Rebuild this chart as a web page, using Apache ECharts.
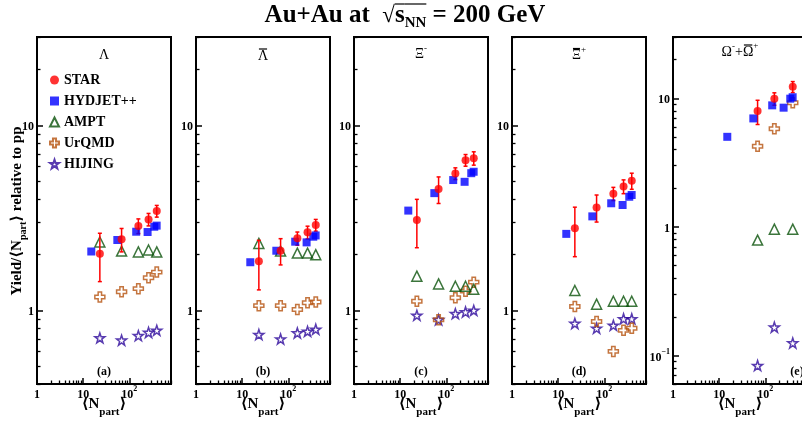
<!DOCTYPE html>
<html><head><meta charset="utf-8">
<script src="https://cdn.jsdelivr.net/npm/echarts@6/dist/echarts.min.js"></script>
<style>html,body{margin:0;padding:0;background:#fff}#c{width:802px;height:424px}</style>
</head><body><div id="c"></div>
<script>
// ---------------- data ----------------
const seriesNames = ['STAR', 'HYDJET++', 'AMPT', 'UrQMD', 'HIJING'];
const panelTags = ['(a)', '(b)', '(c)', '(d)', '(e)'];

const nPartModels = [23, 68, 157, 261, 393];        // STAR + AMPT/UrQMD/HIJING
const nPartHydjet = [15, 55, 141, 249, 347, 391];   // HYDJET++
const nPartOmega  = [68, 157, 393];                 // Omega: STAR + AMPT/UrQMD/HIJING

// (a) Lambda
const starLambda = [2.02, 2.42, 2.86, 3.10, 3.44];
const starLambdaErr = [0.59, 0.35, 0.26, 0.24, 0.25];
const hydLambda = [2.08, 2.40, 2.66, 2.65, 2.83, 2.87];
const amptLambda = [2.34, 2.09, 2.07, 2.12, 2.07];
const urqmdLambda = [1.18, 1.26, 1.31, 1.50, 1.61];
const hijingLambda = [0.71, 0.69, 0.73, 0.76, 0.78];
// (b) anti-Lambda
const starALambda = [1.84, 2.10, 2.45, 2.64, 2.89];
const starALambdaErr = [0.55, 0.34, 0.20, 0.21, 0.21];
const hydALambda = [1.82, 2.10, 2.35, 2.33, 2.50, 2.54];
const amptALambda = [2.30, 2.09, 2.04, 2.04, 2.00];
const urqmdALambda = [1.06, 1.06, 1.01, 1.10, 1.11];
const hijingALambda = [0.74, 0.70, 0.755, 0.77, 0.79];
// (c) Xi-
const starXi = [3.08, 4.52, 5.49, 6.48, 6.64];
const starXiErr = [0.90, 0.74, 0.40, 0.47, 0.55];
const hydXi = [3.46, 4.30, 5.06, 4.95, 5.51, 5.61];
const amptXi = [1.53, 1.39, 1.35, 1.35, 1.30];
const urqmdXi = [1.12, 0.89, 1.17, 1.27, 1.42];
const hijingXi = [0.94, 0.89, 0.96, 0.98, 1.00];
// (d) anti-Xi+
const starAXi = [2.78, 3.60, 4.27, 4.67, 5.01];
const starAXiErr = [0.83, 0.60, 0.35, 0.40, 0.50];
const hydAXi = [2.59, 3.22, 3.79, 3.71, 4.11, 4.20];
const amptAXi = [1.28, 1.08, 1.12, 1.12, 1.12];
const urqmdAXi = [1.05, 0.87, 0.60, 0.78, 0.80];
const hijingAXi = [0.85, 0.80, 0.83, 0.90, 0.90];
// (e) Omega- + anti-Omega+
const starOmega = [7.96, 9.94, 12.3];
const starOmegaErr = [1.7, 1.1, 1.2];
const hydOmega = [5.02, 6.98, 8.82, 8.46, 9.94, 10.2];
const amptOmega = [0.79, 0.96, 0.96];
const urqmdOmega = [4.24, 5.8, 9.25];
const hijingOmega = [0.0835, 0.166, 0.125];

// axes
const xRange = [1, 800];
const xMajorTicks = [1, 10, 100];
const xMinorTicks = [2,3,4,5,6,7,8,9,20,30,40,50,60,70,80,90,200,300,400,500,600,700,800];
const yRangeBaryon = [0.4, 30];
const yMajorBaryon = [1, 10];
const yMinorBaryon = [0.4,0.5,0.6,0.7,0.8,0.9,2,3,4,5,6,7,8,9,20,30];
const yRangeOmega = [0.06, 30];
const yMajorOmega = [0.1, 1, 10];
const yMinorOmega = [0.06,0.07,0.08,0.09,0.2,0.3,0.4,0.5,0.6,0.7,0.8,0.9,2,3,4,5,6,7,8,9,20,30];

// ---------------- styling / layout ----------------
const FONT = '"Liberation Serif","DejaVu Serif",serif';
const COLORS = {STAR:'#ff0000', 'HYDJET++':'#0000ff', AMPT:'#0a520a', UrQMD:'#b5520f', HIJING:'#2e0a9c'};
const SYMBOLS = {
  STAR: 'circle',
  'HYDJET++': 'rect',
  AMPT: 'triangle',
  UrQMD: 'path://M33,0H67V33H100V67H67V100H33V67H0V33H33Z',
  HIJING: 'path://M50,0L61.8,35.4L97.6,35.4L68.8,57.3L79.4,91.8L50,70.5L20.6,91.8L31.2,57.3L2.4,35.4L38.2,35.4Z'
};
const SIZES = {STAR:8, 'HYDJET++':8, AMPT:10, UrQMD:10, HIJING:10};
const gridLeft = [37, 196, 354, 512, 673];
const gridTop = 37, gridW = 134, gridH = 347;

const L = Math.log10;
const panels = [
  {star: starLambda, err: starLambdaErr, starX: nPartModels, hyd: hydLambda, ampt: amptLambda, urqmd: urqmdLambda, hijing: hijingLambda, modelX: nPartModels, yr: yRangeBaryon, ymaj: yMajorBaryon, ymin: yMinorBaryon},
  {star: starALambda, err: starALambdaErr, starX: nPartModels, hyd: hydALambda, ampt: amptALambda, urqmd: urqmdALambda, hijing: hijingALambda, modelX: nPartModels, yr: yRangeBaryon, ymaj: yMajorBaryon, ymin: yMinorBaryon},
  {star: starXi, err: starXiErr, starX: nPartModels, hyd: hydXi, ampt: amptXi, urqmd: urqmdXi, hijing: hijingXi, modelX: nPartModels, yr: yRangeBaryon, ymaj: yMajorBaryon, ymin: yMinorBaryon},
  {star: starAXi, err: starAXiErr, starX: nPartModels, hyd: hydAXi, ampt: amptAXi, urqmd: urqmdAXi, hijing: hijingAXi, modelX: nPartModels, yr: yRangeBaryon, ymaj: yMajorBaryon, ymin: yMinorBaryon},
  {star: starOmega, err: starOmegaErr, starX: nPartOmega, hyd: hydOmega, ampt: amptOmega, urqmd: urqmdOmega, hijing: hijingOmega, modelX: nPartOmega, yr: yRangeOmega, ymaj: yMajorOmega, ymin: yMinorOmega}
];

function logLabel(v) {
  const p = Math.round(v);
  if (p === 0) return '{b|1}';
  if (p === 1) return '{b|10}';
  return '{b|10}{sup|' + (p < 0 ? '\u2212' : '') + Math.abs(p) + '}';
}
const labelRich = {
  b: {fontFamily: FONT, fontWeight: 'bold', fontSize: 12, lineHeight: 16, verticalAlign: 'bottom', color: '#000'},
  sup: {fontFamily: FONT, fontWeight: 'bold', fontSize: 8, lineHeight: 8, verticalAlign: 'top', color: '#000'}
};

function renderErr(params, api) {
  const x = api.value(0), lo = api.value(2), hi = api.value(3);
  const p1 = api.coord([x, lo]), p2 = api.coord([x, hi]);
  const c = 2;
  const st = {stroke: '#ff0000', lineWidth: 1.5};
  return {type: 'group', children: [
    {type: 'line', shape: {x1: p1[0], y1: p1[1], x2: p2[0], y2: p2[1]}, style: st},
    {type: 'line', shape: {x1: p1[0]-c, y1: p1[1], x2: p1[0]+c, y2: p1[1]}, style: st},
    {type: 'line', shape: {x1: p2[0]-c, y1: p2[1], x2: p2[0]+c, y2: p2[1]}, style: st}
  ]};
}

const grid = [], xAxis = [], yAxis = [], series = [];
panels.forEach((pn, i) => {
  grid.push({left: gridLeft[i], top: gridTop, width: gridW, height: gridH, show: true,
    borderColor: '#000', borderWidth: 2, backgroundColor: 'transparent', outerBoundsMode: 'none', containLabel: false});
  const xr = [L(xRange[0]), L(xRange[1])];
  const yr = [L(pn.yr[0]), L(pn.yr[1])];
  xAxis.push({type: 'value', gridIndex: i, min: xr[0], max: xr[1], position: 'bottom',
    axisLine: {show: false, onZero: false}, splitLine: {show: false},
    axisTick: {show: true, inside: true, length: 6, customValues: xMajorTicks.map(L), lineStyle: {color: '#000', width: 1.5}},
    axisLabel: {show: true, customValues: xMajorTicks.map(L), formatter: logLabel, rich: labelRich, margin: 1, alignMinLabel: 'center', alignMaxLabel: 'center'}});
  xAxis.push({type: 'value', gridIndex: i, min: xr[0], max: xr[1], position: 'bottom',
    axisLine: {show: false, onZero: false}, splitLine: {show: false}, axisLabel: {show: false},
    axisTick: {show: true, inside: true, length: 3.5, customValues: xMinorTicks.map(L), lineStyle: {color: '#000', width: 1.3}}});
  yAxis.push({type: 'value', gridIndex: i, min: yr[0], max: yr[1], position: 'left',
    axisLine: {show: false, onZero: false}, splitLine: {show: false},
    axisTick: {show: true, inside: true, length: 6, customValues: pn.ymaj.map(L), lineStyle: {color: '#000', width: 1.5}},
    axisLabel: {show: true, customValues: pn.ymaj.map(L), formatter: logLabel, rich: labelRich, margin: 3}});
  yAxis.push({type: 'value', gridIndex: i, min: yr[0], max: yr[1], position: 'left',
    axisLine: {show: false, onZero: false}, splitLine: {show: false}, axisLabel: {show: false},
    axisTick: {show: true, inside: true, length: 3.5, customValues: pn.ymin.map(L), lineStyle: {color: '#000', width: 1.3}}});
  const xi = 2*i, yi = 2*i;
  // error bars
  series.push({type: 'custom', name: 'STAR error', xAxisIndex: xi, yAxisIndex: yi, z: 4,
    renderItem: renderErr, encode: {x: 0, y: 1},
    data: pn.star.map((v, k) => [L(pn.starX[k]), L(v), L(v - pn.err[k]), L(v + pn.err[k])])});
  const mk = (name, xs, ys, z) => {
    const open = (name === 'AMPT' || name === 'UrQMD' || name === 'HIJING');
    series.push({type: 'scatter', name: name, xAxisIndex: xi, yAxisIndex: yi, z: z,
      symbol: SYMBOLS[name], symbolSize: SIZES[name],
      itemStyle: open ? {color: 'rgba(255,255,255,0)', borderColor: COLORS[name], borderWidth: 1.5}
                      : {color: COLORS[name], borderWidth: 0},
      data: ys.map((v, k) => [L(xs[k]), L(v)])});
  };
  mk('HIJING', pn.modelX, pn.hijing, 3);
  mk('UrQMD', pn.modelX, pn.urqmd, 3);
  mk('AMPT', pn.modelX, pn.ampt, 3);
  mk('HYDJET++', nPartHydjet, pn.hyd, 4);
  mk('STAR', pn.starX, pn.star, 5);
});

// ---------- text helpers ----------
const mctx = document.createElement('canvas').getContext('2d');
function fstr(size, bold) { return (bold ? 'bold ' : '') + size + 'px ' + FONT; }
function textRun(segs, cx, cy, barDy) {
  let W = 0;
  segs.forEach(s => { mctx.font = fstr(s.size, s.bold); s.w = mctx.measureText(s.t).width; W += s.w; });
  let x = cx - W / 2;
  const out = [];
  segs.forEach(s => {
    out.push({type: 'text', x: x, y: cy + (s.dy || 0), style: {text: s.t, font: fstr(s.size, s.bold), fill: '#000',
      align: 'left', verticalAlign: 'middle', textAlign: 'left', textVerticalAlign: 'middle'}});
    if (s.bar) out.push({type: 'line', shape: {x1: x + (s.barPad || 0), y1: cy + barDy, x2: x + s.w - (s.barPad || 0), y2: cy + barDy},
      style: {stroke: '#000', lineWidth: 1.2}});
    x += s.w;
  });
  return out;
}

const graphics = [];
// main title
graphics.push(...textRun([
  {t: 'Au+Au at  ', size: 25, bold: true},
  {t: '\u221A', size: 23, bold: false},
  {t: 's', size: 25, bold: true, bar: true},
  {t: 'NN', size: 15, bold: true, dy: 7, bar: true},
  {t: ' = 200 GeV', size: 25, bold: true}
], 405, 16, -12));
// panel titles
const cxs = gridLeft.map(l => l + gridW / 2);
graphics.push(...textRun([{t: '\u039B', size: 14}], cxs[0], 55, -7));
graphics.push(...textRun([{t: '\u039B', size: 14, bar: true, barPad: 1}], cxs[1], 56, -7));
graphics.push(...textRun([{t: '\u039E', size: 14}, {t: '-', size: 9, dy: -5}], cxs[2], 54, -7));
graphics.push(...textRun([{t: '\u039E', size: 14, bar: true, barPad: 1}, {t: '+', size: 9, dy: -6}], cxs[3], 55.5, -7));
graphics.push(...textRun([{t: '\u03A9', size: 14}, {t: '-', size: 9, dy: -5}, {t: '+', size: 14},
  {t: '\u03A9', size: 14, bar: true, barPad: 1}, {t: '+', size: 9, dy: -6}], cxs[4], 52, -7));
// panel tags and x-axis names
const tagX = [cxs[0], cxs[1], cxs[2], cxs[3], 797];
panelTags.forEach((t, i) => {
  graphics.push(...textRun([{t: t, size: 12, bold: true}], tagX[i], 372, 0));
  graphics.push(...textRun([
    {t: '\u27E8', size: 15, bold: true},
    {t: 'N', size: 15, bold: true},
    {t: 'part', size: 11, bold: true, dy: 8},
    {t: '\u27E9', size: 15, bold: true}
  ], cxs[i], 404, 0));
});
// y-axis name (rotated)
graphics.push({type: 'group', x: 17, y: 211, rotation: Math.PI / 2, children: textRun([
  {t: 'Yield/\u27E8', size: 15, bold: true},
  {t: 'N', size: 15, bold: true},
  {t: 'part', size: 10, bold: true, dy: 6},
  {t: '\u27E9 relative to pp', size: 15, bold: true}
], 0, 0, 0)});

const chart = echarts.init(document.getElementById('c'), null, {renderer: 'canvas'});
chart.setOption({
  animation: false,
  backgroundColor: '#fff',
  grid: grid, xAxis: xAxis, yAxis: yAxis, series: series,
  legend: {show: true, data: seriesNames, orient: 'vertical', left: 44, top: 68,
    itemWidth: 9, itemHeight: 9, itemGap: 7, selectedMode: false,
    textStyle: {fontFamily: FONT, fontWeight: 'bold', fontSize: 14, lineHeight: 14, color: '#000'}},
  graphic: {elements: graphics}
});
</script></body></html>
